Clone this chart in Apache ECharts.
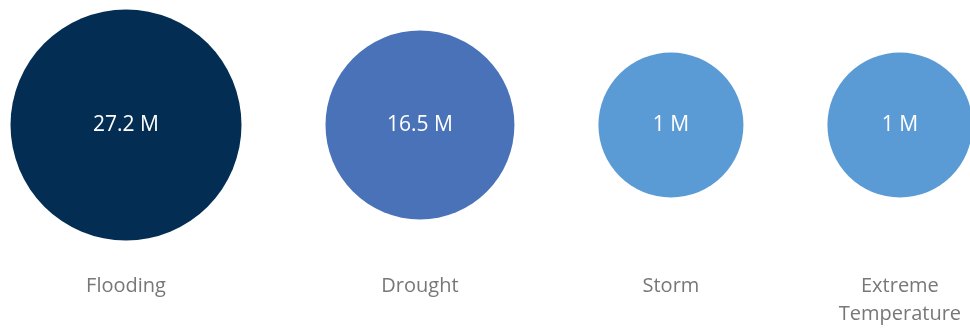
<!DOCTYPE html>
<html><head><meta charset="utf-8">
<script src="https://cdn.jsdelivr.net/npm/echarts@6/dist/echarts.min.js"></script>
<style>html,body{margin:0;padding:0;background:#fff}#c{width:970px;height:329px}</style>
</head><body><div id="c"></div>
<script>
const categories = ['Flooding', 'Drought', 'Storm', 'Extreme\nTemperature'];
const values = [27.2, 16.5, 1, 1];
const valueLabels = ['27.2 M', '16.5 M', '1 M', '1 M'];

const colors = ['#032d53', '#4a72b8', '#5b9bd5', '#5b9bd5'];
const minD = 145, maxD = 231, gap = 84, startX = 10.5;
const vMin = Math.min(...values), vMax = Math.max(...values);
function diam(v) { return minD + (maxD - minD) * Math.pow((v - vMin) / (vMax - vMin), 1.28); }
const diams = values.map(diam);
const xs = [];
let cursor = startX;
diams.forEach((d, i) => { xs.push(cursor + d / 2); cursor += d + gap; });

const circleData = values.map((v, i) => ({
  value: [xs[i], 125], name: valueLabels[i], symbolSize: diams[i],
  itemStyle: { color: colors[i], opacity: 1 }
}));
const labelData = categories.map((c, i) => ({ value: [xs[i], 272], name: c }));

const chart = echarts.init(document.getElementById('c'));
chart.setOption({
  animation: false,
  grid: { left: 0, right: 0, top: 0, bottom: 0 },
  xAxis: { type: 'value', min: 0, max: 970, show: false },
  yAxis: { type: 'value', min: 0, max: 329, inverse: true, show: false },
  series: [
    {
      type: 'scatter', data: circleData, symbol: 'circle',
      itemStyle: { opacity: 1 },
      label: { show: true, position: 'inside', formatter: p => p.name,
        color: '#ffffff', fontSize: 21, fontFamily: '"Open Sans", sans-serif' }
    },
    {
      type: 'scatter', data: labelData, symbolSize: 0,
      label: { show: true, position: 'inside', verticalAlign: 'top', align: 'center',
        formatter: p => p.name, color: '#555555', fontSize: 20, lineHeight: 28,
        fontFamily: '"Open Sans", sans-serif' }
    }
  ]
});
</script></body></html>
